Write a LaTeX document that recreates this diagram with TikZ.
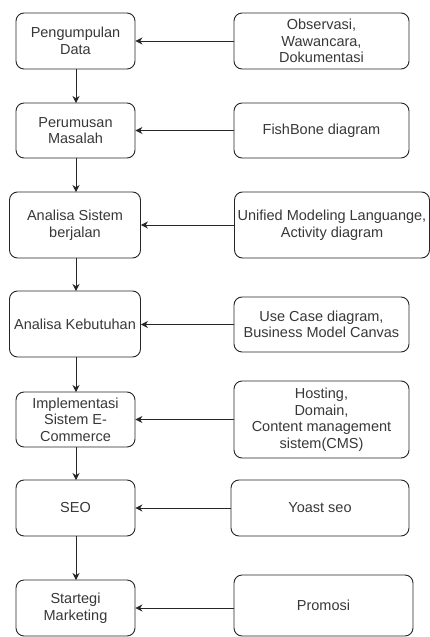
\documentclass[tikz,border=0pt]{standalone}
\usepackage{fontspec}
\setmainfont{Liberation Sans}
\usetikzlibrary{arrows.meta}
\begin{document}
\begin{tikzpicture}[x=1pt,y=-1pt,
  box/.style={draw=black!85,line width=0.9pt,rounded corners=8pt,align=center,
    font=\fontsize{14.5}{16.5}\selectfont,text=black!78,inner sep=1pt},
  arr/.style={draw=black!85,line width=0.9pt,-{Stealth[length=7pt,width=7pt]}}]
\useasboundingbox[fill=white] (0,0) rectangle (430,637);
% left column
\node[box,minimum width=119pt,minimum height=56pt] (b1) at (75.5,41) {Pengumpulan\\Data};
\node[box,minimum width=119pt,minimum height=55pt] (b2) at (75.5,130.5) {Perumusan\\Masalah};
\node[box,minimum width=131pt,minimum height=66pt] (b3) at (75,225) {Analisa Sistem\\berjalan};
\node[box,minimum width=131pt,minimum height=66pt] (b4) at (75,324) {Analisa Kebutuhan};
\node[box,minimum width=119pt,minimum height=55pt] (b5) at (75.5,419.5) {Implementasi\\Sistem E-\\Commerce};
\node[box,minimum width=119pt,minimum height=56pt] (b6) at (75.5,508) {SEO};
\node[box,minimum width=119pt,minimum height=56pt] (b7) at (75.5,608) {Startegi\\Marketing};
% right column
\node[box,minimum width=175pt,minimum height=56pt] (r1) at (321.5,41) {Observasi,\\Wawancara,\\Dokumentasi};
\node[box,minimum width=175pt,minimum height=55pt] (r2) at (321.5,130.5) {FishBone diagram};
\node[box,minimum width=195pt,minimum height=66pt] (r3) at (332,225) {Unified Modeling Languange,\\Activity diagram};
\node[box,minimum width=175pt,minimum height=55pt] (r4) at (321.5,324.5) {Use Case diagram,\\Business Model Canvas};
\node[box,minimum width=175pt,minimum height=77pt] (r5) at (321.5,419.5) {Hosting,\\Domain,\\Content management\\sistem(CMS)};
\node[box,minimum width=178pt,minimum height=56pt] (r6) at (320,508) {Yoast seo};
\node[box,minimum width=179pt,minimum height=61pt] (r7) at (323.5,605.5) {Promosi};
% vertical arrows
\coordinate (t2) at (76,103); \coordinate (t3) at (76,192);
\coordinate (t4) at (76,291); \coordinate (t5) at (76,392);
\coordinate (t6) at (76,480); \coordinate (t7) at (76,580);
\draw[arr] (b1.south -| t2) -- (t2);
\draw[arr] (b2.south -| t3) -- (t3);
\draw[arr] (b3.south -| t4) -- (t4);
\draw[arr] (b4.south -| t5) -- (t5);
\draw[arr] (b5.south -| t6) -- (t6);
\draw[arr] (b6.south -| t7) -- (t7);
% horizontal arrows
\draw[arr] (r1.west) -- (r1.west -| b1.east);
\draw[arr] (r2.west) -- (r2.west -| b2.east);
\draw[arr] (r3.west) -- (r3.west -| b3.east);
\draw[arr] (r4.west) -- (r4.west -| b4.east);
\draw[arr] (r5.west) -- (r5.west -| b5.east);
\draw[arr] (r6.west) -- (r6.west -| b6.east);
\draw[arr] (r7.west |- b7.east) -- (b7.east);
\end{tikzpicture}
\end{document}
